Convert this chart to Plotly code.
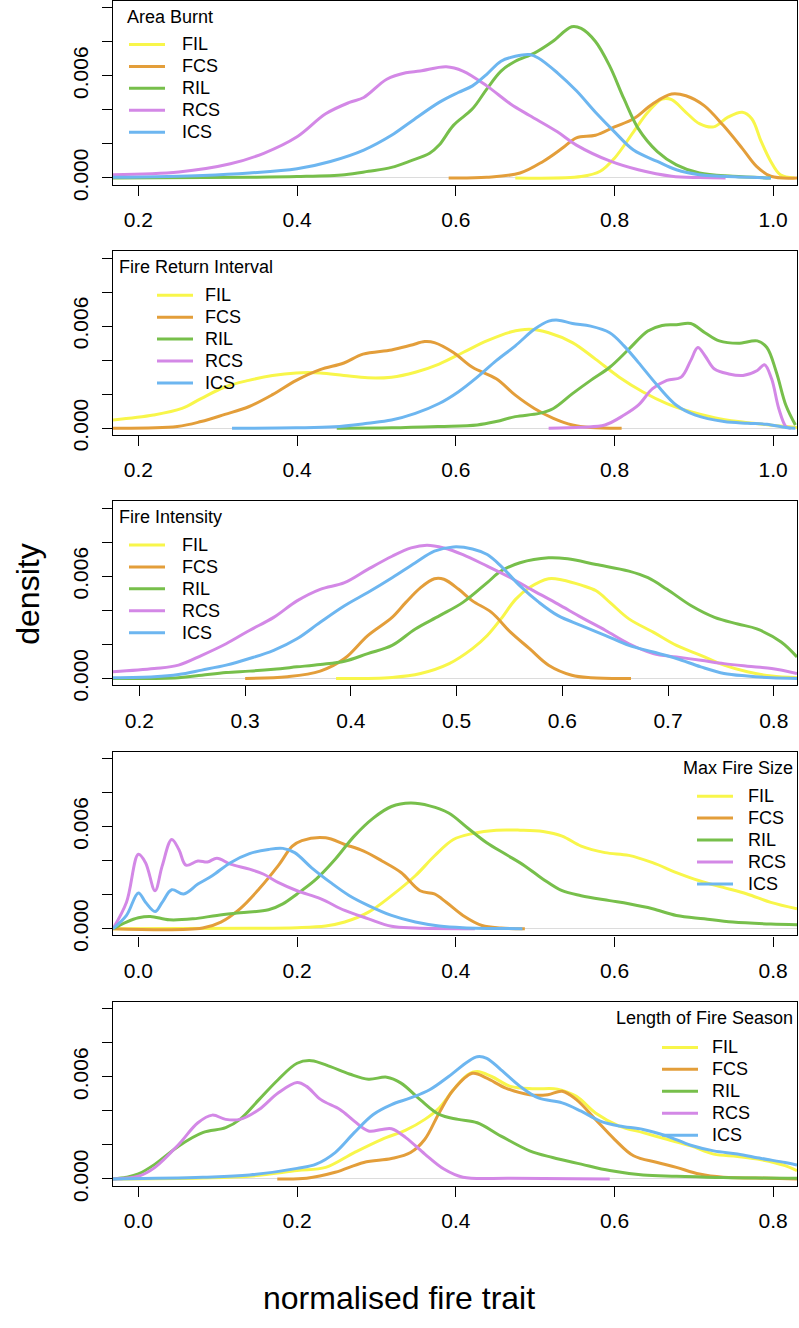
import plotly.graph_objects as go

W, H = 799, 1328
FONT = "Liberation Sans, Arial, Helvetica, sans-serif"

series_names = ["FIL", "FCS", "RIL", "RCS", "ICS"]
series_colors = ["#F8F64A", "#E39E3A", "#77BF4B", "#D388E6", "#6DB6F0"]

y_tick_vals = [0.0, 0.002, 0.004, 0.006, 0.008, 0.010]
y_tick_text = ["0.000", "", "", "0.006", "", ""]
x_ticks_hi = [0.2, 0.4, 0.6, 0.8, 1.0]
x_ticks_fi = [0.2, 0.3, 0.4, 0.5, 0.6, 0.7, 0.8]
x_ticks_lo = [0.0, 0.2, 0.4, 0.6, 0.8]

panel_titles = ["Area Burnt", "Fire Return Interval", "Fire Intensity",
                "Max Fire Size", "Length of Fire Season"]

# ---- Area Burnt (densities in units of 1e-3) ----
ab_fil_x = [0.675, 0.758, 0.782, 0.800, 0.824, 0.842, 0.860, 0.872, 0.890, 0.907, 0.925, 0.943, 0.961, 0.973, 0.985, 0.997, 1.009, 1.027]
ab_fil_y = [0, 0.08, 0.39, 1.16, 2.71, 3.86, 4.64, 4.60, 3.86, 3.19, 3.00, 3.57, 3.86, 3.48, 2.13, 0.97, 0.19, 0]
ab_fcs_x = [0.591, 0.639, 0.681, 0.710, 0.734, 0.752, 0.776, 0.800, 0.824, 0.848, 0.872, 0.890, 0.913, 0.937, 0.961, 0.979, 0.997, 1.030]
ab_fcs_y = [0, 0.04, 0.29, 0.97, 1.74, 2.36, 2.51, 3.00, 3.48, 4.35, 4.93, 4.83, 4.25, 3.09, 1.74, 0.68, 0.10, 0]
ab_ril_x = [0.168, 0.34, 0.40, 0.46, 0.49, 0.519, 0.543, 0.567, 0.579, 0.597, 0.621, 0.639, 0.657, 0.675, 0.699, 0.722, 0.746, 0.758, 0.776, 0.794, 0.812, 0.830, 0.854, 0.878, 0.907, 0.949, 0.997]
ab_ril_y = [0, 0.04, 0.08, 0.19, 0.39, 0.62, 1.00, 1.45, 1.93, 3.09, 4.06, 5.22, 6.28, 6.86, 7.34, 8.02, 8.89, 8.79, 8.02, 6.57, 4.64, 2.90, 1.55, 0.77, 0.29, 0.10, 0]
ab_rcs_x = [0.168, 0.251, 0.316, 0.358, 0.40, 0.436, 0.466, 0.484, 0.513, 0.537, 0.555, 0.588, 0.609, 0.639, 0.669, 0.693, 0.728, 0.752, 0.794, 0.830, 0.872, 0.907, 0.94]
ab_rcs_y = [0.19, 0.35, 0.83, 1.45, 2.42, 3.77, 4.44, 4.73, 5.80, 6.18, 6.28, 6.53, 6.28, 5.41, 4.35, 3.67, 2.71, 1.93, 1.00, 0.48, 0.10, 0.02, 0]
ab_ics_x = [0.168, 0.281, 0.34, 0.40, 0.442, 0.484, 0.519, 0.543, 0.579, 0.603, 0.621, 0.639, 0.657, 0.675, 0.693, 0.704, 0.728, 0.752, 0.776, 0.80, 0.824, 0.854, 0.878, 0.907, 0.937, 0.997]
ab_ics_y = [0.04, 0.15, 0.29, 0.54, 0.97, 1.64, 2.51, 3.29, 4.44, 5.02, 5.41, 6.09, 6.86, 7.15, 7.25, 7.05, 6.18, 5.12, 3.86, 2.71, 1.64, 0.97, 0.48, 0.19, 0.10, 0]

# ---- Fire Return Interval ----
fri_fil_x = [0.168, 0.219, 0.255, 0.279, 0.309, 0.339, 0.369, 0.399, 0.429, 0.459, 0.489, 0.519, 0.549, 0.579, 0.609, 0.639, 0.669, 0.693, 0.717, 0.747, 0.776, 0.806, 0.836, 0.866, 0.896, 0.926, 0.956, 0.986, 1.016, 1.030]
fri_fil_y = [0.48, 0.77, 1.16, 1.74, 2.42, 2.81, 3.10, 3.25, 3.25, 3.10, 2.96, 3.00, 3.29, 3.77, 4.45, 5.13, 5.65, 5.81, 5.61, 5.03, 4.06, 3.00, 2.13, 1.45, 0.97, 0.62, 0.39, 0.23, 0.10, 0.04]
fri_fcs_x = [0.168, 0.249, 0.279, 0.309, 0.339, 0.369, 0.399, 0.429, 0.459, 0.483, 0.519, 0.543, 0.561, 0.573, 0.597, 0.621, 0.651, 0.675, 0.699, 0.723, 0.747, 0.770, 0.809]
fri_fcs_y = [0, 0.10, 0.39, 0.81, 1.26, 1.97, 2.81, 3.44, 3.83, 4.35, 4.60, 4.87, 5.09, 5.03, 4.45, 3.58, 2.90, 1.94, 1.16, 0.58, 0.19, 0.04, 0]
fri_ril_x = [0.45, 0.519, 0.579, 0.627, 0.651, 0.675, 0.705, 0.723, 0.747, 0.770, 0.794, 0.818, 0.842, 0.860, 0.878, 0.896, 0.914, 0.932, 0.956, 0.980, 0.992, 1.004, 1.016, 1.028]
fri_ril_y = [0, 0.02, 0.10, 0.19, 0.39, 0.68, 0.87, 1.16, 2.03, 2.81, 3.58, 4.64, 5.71, 6.04, 6.08, 6.15, 5.61, 5.13, 4.99, 5.13, 4.74, 3.29, 1.35, 0.19]
fri_rcs_x = [0.717, 0.759, 0.788, 0.812, 0.830, 0.848, 0.866, 0.884, 0.896, 0.905, 0.914, 0.926, 0.944, 0.962, 0.980, 0.989, 0.998, 1.007, 1.016, 1.022]
fri_rcs_y = [0, 0.06, 0.19, 0.77, 1.35, 2.32, 2.81, 3.00, 3.97, 4.74, 4.26, 3.48, 3.19, 3.10, 3.39, 3.73, 2.90, 1.16, 0.10, 0]
fri_ics_x = [0.318, 0.399, 0.447, 0.489, 0.519, 0.549, 0.579, 0.603, 0.627, 0.651, 0.675, 0.699, 0.717, 0.729, 0.747, 0.770, 0.794, 0.812, 0.830, 0.854, 0.878, 0.902, 0.938, 0.968, 0.992, 1.016, 1.028]
fri_ics_y = [0, 0.02, 0.08, 0.29, 0.48, 0.87, 1.45, 2.13, 3.00, 3.97, 4.84, 5.81, 6.29, 6.35, 6.15, 6.00, 5.61, 4.84, 3.87, 2.52, 1.35, 0.77, 0.39, 0.29, 0.23, 0.04, 0]

# ---- Fire Intensity ----
fi_fil_x = [0.386, 0.439, 0.466, 0.493, 0.515, 0.529, 0.542, 0.556, 0.569, 0.587, 0.600, 0.618, 0.632, 0.645, 0.663, 0.686, 0.708, 0.731, 0.753, 0.775, 0.798, 0.822]
fi_fil_y = [0, 0.06, 0.29, 0.87, 1.75, 2.52, 3.50, 4.66, 5.34, 5.86, 5.79, 5.48, 5.15, 4.47, 3.50, 2.72, 1.94, 1.36, 0.78, 0.39, 0.14, 0.04]
fi_fcs_x = [0.300, 0.340, 0.371, 0.394, 0.416, 0.439, 0.452, 0.466, 0.479, 0.488, 0.502, 0.515, 0.533, 0.551, 0.569, 0.587, 0.609, 0.627, 0.665]
fi_fcs_y = [0, 0.10, 0.43, 1.17, 2.52, 3.59, 4.47, 5.34, 5.86, 5.83, 5.24, 4.56, 3.88, 2.72, 1.75, 0.78, 0.19, 0.04, 0]
fi_ril_x = [0.175, 0.237, 0.259, 0.282, 0.304, 0.327, 0.349, 0.371, 0.394, 0.416, 0.439, 0.461, 0.484, 0.506, 0.529, 0.542, 0.560, 0.587, 0.605, 0.632, 0.663, 0.681, 0.699, 0.722, 0.744, 0.766, 0.784, 0.807, 0.822]
fi_ril_y = [0, 0.04, 0.19, 0.35, 0.43, 0.54, 0.68, 0.82, 1.01, 1.46, 1.94, 2.91, 3.69, 4.47, 5.63, 6.31, 6.80, 7.09, 7.03, 6.70, 6.31, 5.92, 5.24, 4.27, 3.59, 3.20, 2.91, 2.14, 1.26]
fi_rcs_x = [0.175, 0.214, 0.237, 0.259, 0.282, 0.304, 0.327, 0.349, 0.371, 0.394, 0.416, 0.439, 0.457, 0.472, 0.488, 0.506, 0.529, 0.551, 0.573, 0.596, 0.618, 0.641, 0.663, 0.686, 0.708, 0.731, 0.753, 0.775, 0.798, 0.822]
fi_rcs_y = [0.39, 0.58, 0.78, 1.36, 2.04, 2.82, 3.59, 4.56, 5.24, 5.63, 6.41, 7.18, 7.67, 7.83, 7.67, 7.28, 6.60, 5.92, 5.15, 4.37, 3.59, 2.82, 2.04, 1.46, 1.26, 1.07, 0.87, 0.72, 0.58, 0.29]
fi_ics_x = [0.175, 0.214, 0.237, 0.259, 0.282, 0.304, 0.327, 0.349, 0.371, 0.394, 0.416, 0.439, 0.461, 0.479, 0.497, 0.515, 0.529, 0.542, 0.560, 0.578, 0.596, 0.618, 0.641, 0.663, 0.686, 0.708, 0.731, 0.753, 0.775, 0.798, 0.822]
fi_ics_y = [0.04, 0.10, 0.23, 0.49, 0.78, 1.17, 1.65, 2.33, 3.30, 4.27, 5.05, 5.92, 6.80, 7.48, 7.73, 7.61, 7.28, 6.60, 5.44, 4.47, 3.69, 3.11, 2.52, 1.94, 1.55, 1.17, 0.68, 0.29, 0.14, 0.04, 0]

# ---- Max Fire Size ----
mfs_fil_x = [-0.032, 0.14, 0.20, 0.236, 0.26, 0.29, 0.319, 0.349, 0.373, 0.397, 0.421, 0.451, 0.481, 0.51, 0.534, 0.558, 0.588, 0.618, 0.648, 0.678, 0.707, 0.737, 0.767, 0.797, 0.830]
mfs_fil_y = [0, 0.02, 0.06, 0.16, 0.39, 0.97, 1.94, 3.11, 4.27, 5.24, 5.59, 5.79, 5.79, 5.71, 5.44, 4.85, 4.47, 4.31, 3.88, 3.30, 2.82, 2.43, 2.04, 1.55, 1.17]
mfs_fcs_x = [-0.032, 0.081, 0.104, 0.128, 0.152, 0.176, 0.194, 0.206, 0.236, 0.26, 0.284, 0.307, 0.331, 0.355, 0.373, 0.388, 0.409, 0.433, 0.457, 0.487]
mfs_fcs_y = [0, 0.04, 0.39, 1.17, 2.33, 3.69, 4.85, 5.18, 5.34, 4.95, 4.56, 3.98, 3.30, 2.23, 2.04, 1.55, 0.78, 0.19, 0.04, 0]
mfs_ril_x = [-0.032, -0.015, 0.0, 0.015, 0.039, 0.069, 0.099, 0.128, 0.164, 0.182, 0.2, 0.224, 0.248, 0.272, 0.296, 0.319, 0.343, 0.367, 0.391, 0.415, 0.439, 0.463, 0.487, 0.51, 0.534, 0.558, 0.594, 0.618, 0.648, 0.678, 0.713, 0.749, 0.797, 0.830]
mfs_ril_y = [0, 0.39, 0.64, 0.72, 0.52, 0.58, 0.78, 0.93, 1.11, 1.46, 2.04, 2.91, 4.08, 5.44, 6.50, 7.18, 7.38, 7.22, 6.80, 5.92, 5.05, 4.37, 3.69, 2.91, 2.23, 1.94, 1.65, 1.46, 1.17, 0.78, 0.58, 0.39, 0.27, 0.23]
mfs_rcs_x = [-0.032, -0.015, 0.0, 0.009, 0.021, 0.03, 0.042, 0.051, 0.06, 0.075, 0.087, 0.099, 0.116, 0.14, 0.158, 0.176, 0.2, 0.23, 0.26, 0.29, 0.319, 0.349, 0.424]
mfs_rcs_y = [0, 1.55, 4.37, 3.88, 2.23, 3.69, 5.24, 4.66, 3.73, 3.98, 3.92, 4.14, 3.79, 3.50, 3.20, 2.72, 2.23, 1.75, 1.07, 0.58, 0.14, 0.04, 0]
mfs_ics_x = [-0.032, -0.015, 0.0, 0.009, 0.021, 0.03, 0.042, 0.057, 0.075, 0.093, 0.116, 0.14, 0.164, 0.182, 0.197, 0.218, 0.242, 0.266, 0.29, 0.319, 0.349, 0.379, 0.409, 0.484]
mfs_ics_y = [0, 0.78, 2.10, 1.55, 1.01, 1.55, 2.29, 2.04, 2.62, 3.11, 3.88, 4.41, 4.66, 4.72, 4.47, 3.59, 2.72, 1.94, 1.36, 0.78, 0.39, 0.16, 0.06, 0]

# ---- Length of Fire Season ----
lfs_fil_x = [-0.032, 0.081, 0.14, 0.20, 0.236, 0.272, 0.307, 0.337, 0.361, 0.379, 0.397, 0.415, 0.427, 0.445, 0.469, 0.499, 0.528, 0.552, 0.576, 0.606, 0.636, 0.666, 0.696, 0.725, 0.755, 0.785, 0.815, 0.830]
lfs_fil_y = [0, 0.06, 0.16, 0.49, 0.68, 1.55, 2.33, 2.87, 3.50, 4.17, 5.24, 6.12, 6.31, 6.02, 5.44, 5.30, 5.28, 4.85, 3.88, 3.11, 2.72, 2.33, 1.94, 1.46, 1.32, 1.13, 0.78, 0.49]
lfs_fcs_x = [0.175, 0.212, 0.248, 0.284, 0.319, 0.343, 0.361, 0.379, 0.397, 0.421, 0.439, 0.463, 0.493, 0.516, 0.534, 0.552, 0.576, 0.60, 0.624, 0.654, 0.678, 0.707, 0.737, 0.797, 0.830]
lfs_fcs_y = [0, 0.04, 0.39, 0.97, 1.20, 1.55, 2.33, 3.88, 5.24, 6.21, 5.92, 5.34, 4.95, 4.95, 5.15, 4.66, 3.50, 2.33, 1.36, 0.97, 0.68, 0.29, 0.10, 0.04, 0]
lfs_ril_x = [-0.032, -0.015, 0.0, 0.021, 0.051, 0.081, 0.11, 0.128, 0.152, 0.176, 0.20, 0.218, 0.242, 0.266, 0.29, 0.313, 0.331, 0.355, 0.379, 0.403, 0.427, 0.457, 0.493, 0.522, 0.558, 0.594, 0.636, 0.678, 0.737, 0.830]
lfs_ril_y = [0, 0.10, 0.29, 0.87, 1.94, 2.72, 3.01, 3.50, 4.66, 5.83, 6.80, 6.95, 6.60, 6.17, 5.86, 5.98, 5.63, 4.66, 3.79, 3.50, 3.30, 2.52, 1.65, 1.26, 0.87, 0.49, 0.23, 0.16, 0.08, 0.04]
lfs_rcs_x = [-0.032, 0.0, 0.021, 0.051, 0.075, 0.093, 0.11, 0.128, 0.152, 0.176, 0.20, 0.212, 0.23, 0.254, 0.272, 0.29, 0.307, 0.319, 0.337, 0.361, 0.385, 0.409, 0.469, 0.594]
lfs_rcs_y = [0, 0.16, 0.68, 2.04, 3.30, 3.75, 3.50, 3.50, 4.08, 5.05, 5.67, 5.44, 4.66, 4.08, 3.40, 2.82, 2.91, 2.95, 2.43, 1.46, 0.58, 0.10, 0.04, 0]
lfs_ics_x = [-0.032, 0.081, 0.14, 0.20, 0.224, 0.248, 0.272, 0.296, 0.319, 0.343, 0.367, 0.391, 0.415, 0.427, 0.439, 0.457, 0.481, 0.504, 0.534, 0.558, 0.582, 0.606, 0.636, 0.666, 0.696, 0.725, 0.755, 0.785, 0.815, 0.830]
lfs_ics_y = [0, 0.10, 0.23, 0.62, 0.87, 1.55, 2.72, 3.79, 4.37, 4.76, 5.24, 6.02, 6.89, 7.18, 7.09, 6.41, 5.44, 4.76, 4.47, 3.98, 3.40, 3.11, 2.91, 2.52, 1.98, 1.65, 1.46, 1.20, 0.97, 0.82]

panels = [
    [(ab_fil_x, ab_fil_y), (ab_fcs_x, ab_fcs_y), (ab_ril_x, ab_ril_y), (ab_rcs_x, ab_rcs_y), (ab_ics_x, ab_ics_y)],
    [(fri_fil_x, fri_fil_y), (fri_fcs_x, fri_fcs_y), (fri_ril_x, fri_ril_y), (fri_rcs_x, fri_rcs_y), (fri_ics_x, fri_ics_y)],
    [(fi_fil_x, fi_fil_y), (fi_fcs_x, fi_fcs_y), (fi_ril_x, fi_ril_y), (fi_rcs_x, fi_rcs_y), (fi_ics_x, fi_ics_y)],
    [(mfs_fil_x, mfs_fil_y), (mfs_fcs_x, mfs_fcs_y), (mfs_ril_x, mfs_ril_y), (mfs_rcs_x, mfs_rcs_y), (mfs_ics_x, mfs_ics_y)],
    [(lfs_fil_x, lfs_fil_y), (lfs_fcs_x, lfs_fcs_y), (lfs_ril_x, lfs_ril_y), (lfs_rcs_x, lfs_rcs_y), (lfs_ics_x, lfs_ics_y)],
]
x_ranges = [[0.168, 1.030], [0.168, 1.030], [0.175, 0.822], [-0.032, 0.830], [-0.032, 0.830]]
x_tickvals = [x_ticks_hi, x_ticks_hi, x_ticks_fi, x_ticks_lo, x_ticks_lo]
y_range = [-0.0004, 0.0104]

# ---- layout geometry (pixels) ----
BOX_L, BOX_R = 113, 797
BOX_H = 186
tops = [1, 254.3, 507.6, 760.9, 1014.2]

# legend geometry: (title_x, title_anchor, key_x0, key_x1, label_x, first_item_offset)
legend_geo = [
    (125, "left", 129, 165, 180, 44),
    (117, "left", 157, 193, 203, 44.5),
    (117, "left", 129, 165, 180, 44),
    (795, "right", 697, 733, 746, 45),
    (795, "right", 662, 698, 710, 46),
]
ITEM_GAP = 22.2


def px(xp):
    return xp / W


def py(yp):
    return 1 - yp / H


fig = go.Figure()
shapes = []
annotations = []
layout_axes = {}

for i, (series, top) in enumerate(zip(panels, tops)):
    n = "" if i == 0 else str(i + 1)
    xa, ya = "x" + n, "y" + n
    for (xs, ys), name, col in zip(series, series_names, series_colors):
        fig.add_trace(go.Scatter(
            x=xs, y=[v * 1e-3 for v in ys], mode="lines", name=name,
            line=dict(color=col, width=3, shape="spline", smoothing=1.0),
            xaxis=xa, yaxis=ya, showlegend=False, hoverinfo="skip"))
    layout_axes["xaxis" + n] = dict(
        domain=[px(BOX_L), px(BOX_R)], anchor=ya, range=x_ranges[i],
        tickmode="array", tickvals=x_tickvals[i],
        ticktext=["%.1f" % v for v in x_tickvals[i]],
        ticks="outside", ticklen=10, tickwidth=1, tickcolor="black",
        showline=True, linecolor="black", linewidth=1.2, mirror=True,
        showgrid=False, zeroline=False, ticklabelstandoff=6,
        tickfont=dict(family=FONT, size=21, color="black"))
    layout_axes["yaxis" + n] = dict(
        domain=[py(top + BOX_H), py(top)], anchor=xa, range=y_range,
        tickmode="array", tickvals=y_tick_vals, ticktext=y_tick_text,
        tickangle=-90,
        ticks="outside", ticklen=10, tickwidth=1, tickcolor="black",
        showline=True, linecolor="black", linewidth=1.2, mirror=True,
        showgrid=False, zeroline=True, zerolinecolor="#DCDCDC", zerolinewidth=1,
        ticklabelstandoff=6,
        tickfont=dict(family=FONT, size=21, color="black"))

    # legend (drawn by hand)
    tx, tanchor, k0, k1, lx, off = legend_geo[i]
    annotations.append(dict(
        text=panel_titles[i], x=px(tx), y=py(top + 16), xref="paper", yref="paper",
        xanchor=tanchor, yanchor="middle", showarrow=False,
        font=dict(family=FONT, size=18, color="black")))
    for j, (name, col) in enumerate(zip(series_names, series_colors)):
        yy = top + off + j * ITEM_GAP
        shapes.append(dict(type="line", xref="paper", yref="paper",
                           x0=px(k0), x1=px(k1), y0=py(yy), y1=py(yy),
                           line=dict(color=col, width=3)))
        annotations.append(dict(
            text=name, x=px(lx), y=py(yy), xref="paper", yref="paper",
            xanchor="left", yanchor="middle", showarrow=False,
            font=dict(family=FONT, size=18, color="black")))

annotations.append(dict(
    text="density", x=px(28), y=py(602), xref="paper", yref="paper",
    xanchor="center", yanchor="middle", textangle=-90, showarrow=False,
    font=dict(family=FONT, size=32, color="black")))
annotations.append(dict(
    text="normalised fire trait", x=px(399), y=py(1314), xref="paper", yref="paper",
    xanchor="center", yanchor="middle", showarrow=False,
    font=dict(family=FONT, size=32, color="black")))

fig.update_layout(
    width=W, height=H, autosize=False,
    margin=dict(l=0, r=0, t=0, b=0, pad=0),
    paper_bgcolor="white", plot_bgcolor="white",
    showlegend=False, shapes=shapes, annotations=annotations,
    font=dict(family=FONT, color="black"),
    **layout_axes)

fig.write_html("out.html", config={"displayModeBar": False},
               post_script="document.body.style.margin='0px';")
